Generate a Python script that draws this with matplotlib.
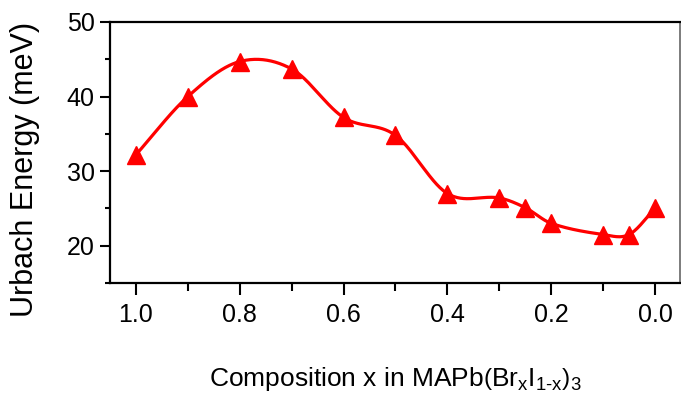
import numpy as np
import matplotlib
matplotlib.use("Agg")
from matplotlib import pyplot as plt
from matplotlib.ticker import MultipleLocator

# composition x and Urbach energy (meV)
composition = [1.0, 0.9, 0.8, 0.7, 0.6, 0.5, 0.4, 0.3, 0.25, 0.2, 0.1, 0.05, 0.0]
urbach = [32.2, 40.0, 44.7, 43.7, 37.2, 34.8, 27.0, 26.4, 25.1, 23.0, 21.5, 21.5, 25.0]
xtick_vals = [1.0, 0.8, 0.6, 0.4, 0.2, 0.0]
xtick_text = ['1.0', '0.8', '0.6', '0.4', '0.2', '0.0']

plt.rcParams['font.family'] = ['Liberation Sans', 'DejaVu Sans']
plt.rcParams['mathtext.fontset'] = 'custom'
plt.rcParams['mathtext.rm'] = 'Liberation Sans'
plt.rcParams['mathtext.it'] = 'Liberation Sans'


def smooth_line(x, y, n=500):
    # cubic hermite with centred slopes (catmull-rom style)
    x = np.asarray(x, float)
    y = np.asarray(y, float)
    order = np.argsort(x)
    x, y = x[order], y[order]
    m = np.zeros(len(x))
    m[1:-1] = (y[2:] - y[:-2]) / (x[2:] - x[:-2])
    m[0] = (y[1] - y[0]) / (x[1] - x[0])
    m[-1] = (y[-1] - y[-2]) / (x[-1] - x[-2])
    xs = np.linspace(x[0], x[-1], n)
    i = np.clip(np.searchsorted(x, xs) - 1, 0, len(x) - 2)
    h = x[i + 1] - x[i]
    t = (xs - x[i]) / h
    h00 = 2 * t**3 - 3 * t**2 + 1
    h10 = t**3 - 2 * t**2 + t
    h01 = -2 * t**3 + 3 * t**2
    h11 = t**3 - t**2
    ys = h00 * y[i] + h10 * h * m[i] + h01 * y[i + 1] + h11 * h * m[i + 1]
    return xs, ys


fig = plt.figure(figsize=(6.81, 4.0), dpi=100)
ax = fig.add_axes([0.1615, 0.2925, 0.837, 0.6525])

xs, ys = smooth_line(composition, urbach)
ax.plot(xs, ys, color='#ff0000', lw=2.3, zorder=2)
ax.plot(composition, urbach, '^', color='#ff0000', markersize=13.5, zorder=3)

ax.set_xlim(1.05, -0.048)
ax.set_ylim(15, 50)
ax.xaxis.set_minor_locator(MultipleLocator(0.1))
ax.yaxis.set_major_locator(MultipleLocator(10))
ax.yaxis.set_minor_locator(MultipleLocator(5))
ax.set_xticks(xtick_vals)
ax.set_xticklabels(xtick_text)

for s in ['left', 'bottom', 'top']:
    ax.spines[s].set_linewidth(1.6)
ax.spines['right'].set_linewidth(1.2)
ax.spines['right'].set_color('#666666')

ax.tick_params(axis='x', which='major', direction='out', length=8.5, width=1.5, labelsize=18, pad=6)
ax.tick_params(axis='x', which='minor', direction='out', length=5.5, width=1.5)
ax.tick_params(axis='y', which='major', direction='out', length=7, width=1.5, labelsize=18, pad=4)
ax.tick_params(axis='y', which='minor', direction='out', length=3.5, width=1.5)

ax.set_ylabel('Urbach Energy (meV)', fontsize=22)
ax.yaxis.set_label_coords(-0.122, 0.435)
ax.set_xlabel(r'Composition x in MAPb$\left(\mathrm{Br}_{x}\mathrm{I}_{1\text{-}x}\right)_{3}$',
              fontsize=19, labelpad=27)

fig.savefig('out.png', dpi=100)
